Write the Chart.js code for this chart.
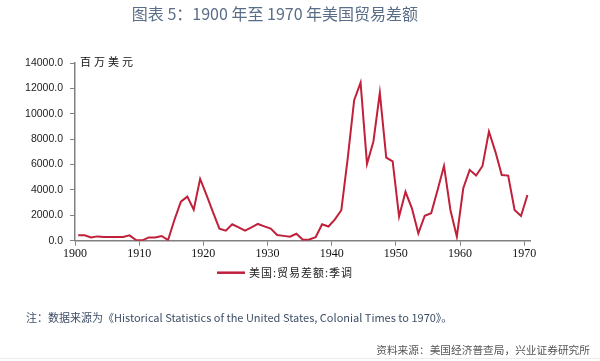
<!DOCTYPE html>
<html><head><meta charset="utf-8">
<script src="https://cdn.jsdelivr.net/npm/chart.js@4/dist/chart.umd.min.js"></script>
<style>
body{margin:0;background:#fff;}
#wrap{position:relative;width:600px;height:361px;overflow:hidden;background:#fff;}
canvas{position:absolute;left:0;top:0;}
.t{position:absolute;white-space:nowrap;font-family:"Noto Sans CJK SC","Noto Sans",sans-serif;}
</style></head><body>
<div id="wrap">
<canvas id="c" width="600" height="361"></canvas>
<div class="t" style="left:0;width:550px;text-align:center;top:2px;font-size:16px;line-height:22px;color:#5a6d87;font-weight:400;">图表 5：1900 年至 1970 年美国贸易差额</div>
<div class="t" style="left:80px;top:53px;font-size:11px;line-height:17px;letter-spacing:3px;color:#111;font-weight:400;">百万美元</div>
<div class="t" style="left:26px;top:308.5px;font-size:11px;line-height:16px;color:#3d4e66;">注：数据来源为《Historical Statistics of the United States, Colonial Times to 1970》。</div>
<div class="t" style="right:10px;top:342px;font-size:10.7px;line-height:16px;color:#555;">资料来源：美国经济普查局，兴业证券研究所</div>
<div style="position:absolute;left:0;top:358px;width:600px;height:1px;background:#ececec;"></div>
</div>
<script>
const seriesLabel = '美国:贸易差额:季调';
const years = [1900,1901,1902,1903,1904,1905,1906,1907,1908,1909,
  1910,1911,1912,1913,1914,1915,1916,1917,1918,1919,
  1920,1921,1922,1923,1924,1925,1926,1927,1928,1929,
  1930,1931,1932,1933,1934,1935,1936,1937,1938,1939,
  1940,1941,1942,1943,1944,1945,1946,1947,1948,1949,
  1950,1951,1952,1953,1954,1955,1956,1957,1958,1959,
  1960,1961,1962,1963,1964,1965,1966,1967,1968,1969,1970];
const tradeBalance = [420,430,250,340,290,290,290,290,420,50,
  30,260,260,370,50,1650,3080,3470,2450,4870,
  3600,2250,950,790,1290,1050,790,1050,1320,1130,
  950,450,380,320,550,80,100,270,1300,1120,
  1680,2400,6500,11070,12450,6050,7820,11650,6550,6250,
  1900,3850,2550,580,1970,2160,4000,5890,2420,320,
  4130,5580,5130,5890,8600,7020,5180,5130,2420,1950,3600];
const xTickYears = [1900,1910,1920,1930,1940,1950,1960,1970];
const yMin = 0, yMax = 14000, yStep = 2000;

const lineColor = '#c0203a';
const axisColor = '#808080';

const legendPlugin = {
  id:'customLegend',
  afterDraw(chart){
    const ctx = chart.ctx;
    const ds = chart.data.datasets[0];
    ctx.save();
    ctx.strokeStyle = ds.borderColor;
    ctx.lineWidth = 2.5;
    ctx.beginPath();
    ctx.moveTo(217, 272.7);
    ctx.lineTo(245, 272.7);
    ctx.stroke();
    ctx.fillStyle = '#222';
    ctx.font = '11px "Noto Sans CJK SC", sans-serif';
    try { ctx.letterSpacing = '1px'; } catch(e) {}
    ctx.textBaseline = 'middle';
    ctx.textAlign = 'left';
    ctx.fillText(ds.label, 249, 273);
    ctx.restore();
  }
};

new Chart(document.getElementById('c'), {
  type:'line',
  data:{datasets:[{
    label: seriesLabel,
    data: years.map((y,i)=>({x:y+0.5, y:tradeBalance[i]})),
    borderColor: lineColor,
    backgroundColor: lineColor,
    borderWidth: 2,
    pointRadius: 0,
    tension: 0,
    fill: false
  }]},
  options:{
    responsive:false,
    animation:false,
    layout:{padding:{left:0,right:70,top:63,bottom:0}},
    plugins:{legend:{display:false}, tooltip:{enabled:false}},
    scales:{
      x:{
        type:'linear', min:1900, max:1970.9,
        afterBuildTicks(s){ s.ticks = xTickYears.map(v=>({value:v})); },
        afterFit(s){ s.height = 361 - 240.7; },
        ticks:{autoSkip:false, maxRotation:0, padding:1, color:'#111',
          font:{family:'"Liberation Serif", serif', size:12},
          callback:(v)=>String(v)},
        grid:{drawOnChartArea:false, drawTicks:true, tickLength:5, color:axisColor, lineWidth:1},
        border:{color:axisColor, width:1.5}
      },
      y:{
        min:yMin, max:yMax,
        afterFit(s){ s.width = 75; },
        ticks:{stepSize:yStep, padding:7, color:'#222',
          font:{family:'"Liberation Sans", Arial, sans-serif', size:10.5},
          callback:(v)=>Number(v).toFixed(1)},
        grid:{drawOnChartArea:false, drawTicks:true, tickLength:5, color:axisColor, lineWidth:1},
        border:{color:axisColor, width:1.5}
      }
    }
  },
  plugins:[legendPlugin]
});
</script>
</body></html>
